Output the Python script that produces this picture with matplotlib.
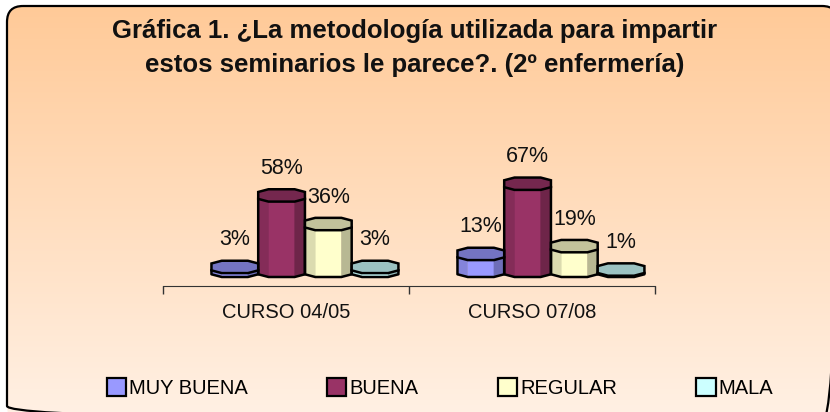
import numpy as np
import matplotlib.pyplot as plt
from matplotlib.patches import FancyBboxPatch, Patch
from matplotlib.colors import to_rgb, LinearSegmentedColormap

plt.rcParams['font.family'] = ['Liberation Sans', 'DejaVu Sans']

# data
categories = ['CURSO 04/05', 'CURSO 07/08']
series = ['MUY BUENA', 'BUENA', 'REGULAR', 'MALA']
muy_buena = [3, 13]
buena = [58, 67]
regular = [36, 19]
mala = [3, 1]
colors = ['#9999FF', '#993366', '#FFFFCC', '#CCFFFF']
title_lines = ['Gráfica 1. ¿La metodología utilizada para impartir',
               'estos seminarios le parece?. (2º enfermería)']


def shade(c, f):
    return tuple(np.clip(np.array(to_rgb(c)) * f, 0, 1))


fig = plt.figure(figsize=(8.3, 4.12), dpi=100)
fig.patch.set_facecolor('white')

# background box with gradient
bg = fig.add_axes([0, 0, 1, 1])
bg.axis('off')
grad = np.linspace(0, 1, 256).reshape(-1, 1)
cmap = LinearSegmentedColormap.from_list('bg', ['#FFCA98', '#FFF1E5'])
box = FancyBboxPatch((7, 6), 831, 416, boxstyle='round,pad=0,rounding_size=16',
                     transform=bg.transData, facecolor='none', edgecolor='none')
bg.add_patch(box)
im = bg.imshow(grad, extent=(0, 830, 422, 6), aspect='auto', cmap=cmap)
im.set_clip_path(box)
bg.add_patch(FancyBboxPatch((7, 6), 831, 416, boxstyle='round,pad=0,rounding_size=16',
                            facecolor='none', edgecolor='black', lw=1.6, zorder=5))
bg.set_xlim(0, 830)
bg.set_ylim(412, 0)

fig.text(0.5, 1 - 31 / 412, title_lines[0], ha='center', va='center',
         fontsize=18.5, fontweight='bold', color='#111111')
fig.text(0.5, 1 - 65 / 412, title_lines[1], ha='center', va='center',
         fontsize=18.5, fontweight='bold', color='#111111')

# plot area
ax = fig.add_axes([163 / 830, 122 / 412, 492 / 830, 143 / 412])
ax.set_facecolor('none')
ax.set_xlim(-0.5, 1.5)
ax.set_ylim(-10, 100)

w = 0.19       # bar width
shift = 0.077  # 3d offset of the group
dy = 9.5       # depth of the cap
c = 0.22       # chamfer of the octagon
oct_u = [c, 1 - c, 1, 1, 1 - c, c, 0, 0]
oct_v = [0, 0, c, 1 - c, 1, 1, 1 - c, c]

x = np.arange(len(categories))
all_vals = [muy_buena, buena, regular, mala]
for j, (vals, col) in enumerate(zip(all_vals, colors)):
    centers = x + shift + (j - 1.5) * w
    x0s = centers - w / 2
    ax.bar(x0s + c * w, vals, width=(1 - 2 * c) * w, align='edge',
           color=col, edgecolor=col, lw=0.3, zorder=2)
    for x0, h, cx in zip(x0s, vals, centers):
        ax.fill([x0, x0 + c * w, x0 + c * w, x0], [c * dy, 0, h, h + c * dy],
                color=shade(col, 0.86), lw=0.3, zorder=2)
        ax.fill([x0 + (1 - c) * w, x0 + w, x0 + w, x0 + (1 - c) * w],
                [0, c * dy, h + c * dy, h], color=shade(col, 0.72), lw=0.3, zorder=2)
        ax.plot([x0, x0, x0 + c * w, x0 + (1 - c) * w, x0 + w, x0 + w],
                [h + c * dy, c * dy, 0, 0, c * dy, h + c * dy],
                color='black', lw=1.8, zorder=3, solid_joinstyle='round')
        ax.fill([x0 + u * w for u in oct_u], [h + v * dy for v in oct_v],
                facecolor=shade(col, 0.76), edgecolor='black', lw=1.8, zorder=4)
        ax.annotate(f'{h}%', (cx, h + dy), xytext=(0, 15), textcoords='offset points',
                    ha='center', va='center', fontsize=15.5, color='#111111',
                    annotation_clip=False)

for s in ['top', 'left', 'right']:
    ax.spines[s].set_visible(False)
ax.spines['bottom'].set_position(('data', -7))
ax.spines['bottom'].set_color('#333333')
ax.set_yticks([])
ax.set_xticks(x)
ax.set_xticklabels(categories, fontsize=14.5, color='#111111')
ax.set_xticks([-0.5, 0.5, 1.5], minor=True)
ax.tick_params(axis='x', which='major', length=0, pad=12)
ax.tick_params(axis='x', which='minor', length=6, width=1, color='#333333')

handles = [Patch(facecolor=col, edgecolor='black', lw=1.6) for col in colors]
fig.legend(handles, series, loc='center', bbox_to_anchor=(440 / 830, 1 - 388 / 412),
           ncol=4, frameon=False, fontsize=14.5, handlelength=0.95, handleheight=0.95,
           handletextpad=0.15, columnspacing=3.95)

fig.savefig('out.png', dpi=100)
